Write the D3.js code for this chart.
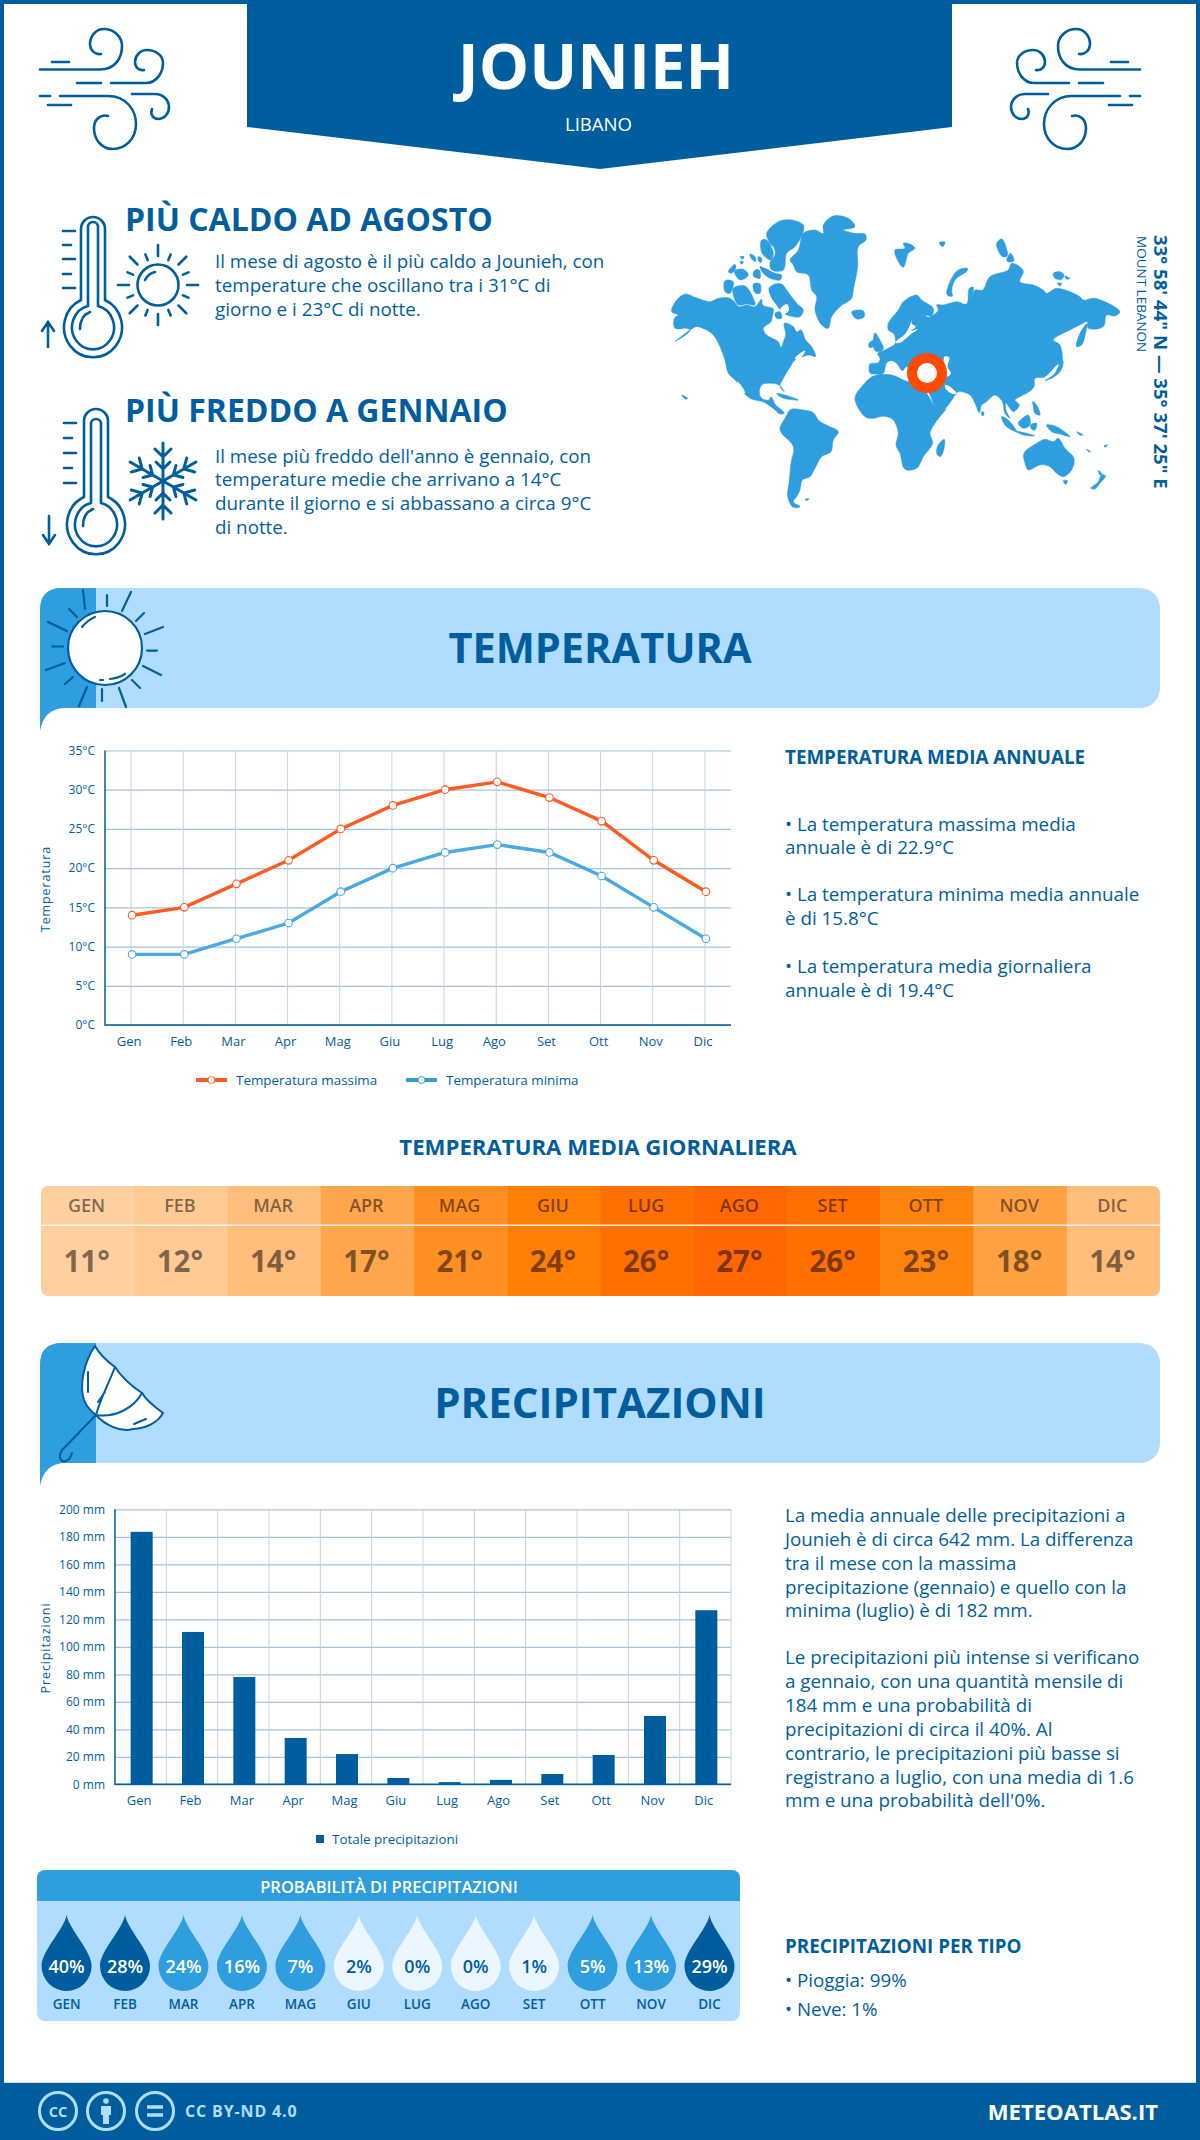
<!DOCTYPE html>
<html><head><meta charset="utf-8">
<script src="https://cdn.jsdelivr.net/npm/d3@7"></script>
<style>
html,body{margin:0;padding:0;background:#fff}
svg{display:block}
text{font-family:"Open Sans",sans-serif}
</style></head><body><svg id="c" width="1200" height="2140" viewBox="0 0 1200 2140"></svg>
<script>
// ---------- data ----------
const months = ["Gen","Feb","Mar","Apr","Mag","Giu","Lug","Ago","Set","Ott","Nov","Dic"];
const monthsUpper = ["GEN","FEB","MAR","APR","MAG","GIU","LUG","AGO","SET","OTT","NOV","DIC"];
const tempMax = [14,15,18,21,25,28,30,31,29,26,21,17];
const tempMin = [9,9,11,13,17,20,22,23,22,19,15,11];
const tempTicks = [0,5,10,15,20,25,30,35];
const tempDaily = [11,12,14,17,21,24,26,27,26,23,18,14];
const precip = [183.6,110.8,78,33.7,22,4.6,1.6,3.2,7.5,21.3,49.7,126.6];
const precipTicks = [0,20,40,60,80,100,120,140,160,180,200];
const precipProb = [40,28,24,16,7,2,0,0,1,5,13,29];

const hotText = ["Il mese di agosto è il più caldo a Jounieh, con","temperature che oscillano tra i 31°C di","giorno e i 23°C di notte."];
const coldText = ["Il mese più freddo dell'anno è gennaio, con","temperature medie che arrivano a 14°C","durante il giorno e si abbassano a circa 9°C","di notte."];
const annualText = [["• La temperatura massima media","annuale è di 22.9°C"],["• La temperatura minima media annuale","è di 15.8°C"],["• La temperatura media giornaliera","annuale è di 19.4°C"]];
const precipText = [["La media annuale delle precipitazioni a","Jounieh è di circa 642 mm. La differenza","tra il mese con la massima","precipitazione (gennaio) e quello con la","minima (luglio) è di 182 mm."],
["Le precipitazioni più intense si verificano","a gennaio, con una quantità mensile di","184 mm e una probabilità di","precipitazioni di circa il 40%. Al","contrario, le precipitazioni più basse si","registrano a luglio, con una media di 1.6","mm e una probabilità dell'0%."]];

// decorative world outline (traced, in its own local units)
const landShapes = [
 [[20,305],[35,270],[62,252],[90,262],[135,275],[160,265],[190,263],[205,272],[222,290],[245,285],[270,290],[290,268],[293,285],[312,292],[325,296],[322,320],[318,335],[295,355],[305,375],[340,395],[348,412],[355,395],[362,375],[358,340],[385,350],[395,365],[408,360],[422,390],[440,410],[452,440],[432,435],[415,440],[390,450],[370,480],[355,505],[345,530],[358,545],[342,525],[310,520],[290,525],[283,545],[290,565],[312,570],[318,560],[332,585],[350,600],[358,610],[345,612],[330,600],[300,578],[255,565],[235,545],[215,515],[190,490],[180,450],[165,410],[145,375],[120,358],[95,350],[75,360],[30,395],[75,362],[65,355],[30,355],[28,325],[40,315]],
 [[312,235],[330,222],[350,222],[365,240],[395,280],[415,300],[405,320],[385,320],[355,310],[335,285],[318,260]],
 [[330,310],[345,305],[350,325],[335,325]],
 [[180,212],[205,215],[195,250],[180,245]],
 [[205,235],[240,228],[265,265],[270,285],[245,282],[220,285],[205,255]],
 [[265,222],[285,222],[285,250],[270,248]],
 [[270,180],[283,180],[285,205],[265,198]],
 [[285,170],[300,175],[330,190],[350,195],[345,210],[315,205],[295,190]],
 [[190,185],[210,163],[212,175],[200,190]],
 [[208,183],[235,178],[250,195],[225,210]],
 [[225,140],[237,140],[233,148]],
 [[225,155],[235,155],[230,163]],
 [[255,132],[270,140],[272,155],[258,145]],
 [[280,140],[290,145],[288,158],[280,152]],
 [[305,70],[340,35],[380,30],[415,45],[415,65],[390,110],[365,130],[355,180],[320,180],[315,158],[330,135],[328,115],[315,100]],
 [[290,90],[305,90],[325,130],[318,150],[295,135],[287,115]],
 [[375,150],[400,120],[415,70],[450,60],[475,70],[475,45],[505,18],[550,25],[570,50],[535,60],[570,70],[600,72],[603,90],[580,110],[578,170],[565,240],[560,265],[525,290],[500,320],[490,355],[470,345],[450,300],[455,260],[440,240],[430,195],[395,185],[385,165]],
 [[560,305],[595,302],[598,320],[575,327]],
 [[345,655],[360,625],[378,598],[415,600],[445,608],[462,632],[490,648],[520,665],[505,690],[498,725],[470,740],[450,775],[435,800],[412,810],[405,840],[395,860],[385,875],[405,890],[385,892],[368,860],[372,820],[378,760],[385,710],[350,670]],
 [[335,550],[360,555],[400,570],[370,568],[345,560]],
 [[420,868],[432,866],[425,872]],
 [[50,555],[68,565],[62,568]],
 [[690,120],[720,115],[715,100],[735,102],[750,115],[730,130],[725,145],[715,172],[700,155]],
 [[823,98],[840,96],[833,110]],
 [[845,250],[860,205],[880,180],[907,175],[907,182],[870,210],[860,245],[863,258],[850,258]],
 [[995,100],[1010,87],[1023,110],[1027,138],[1013,140],[1000,122]],
 [[1025,150],[1037,130],[1047,152],[1030,156]],
 [[1165,190],[1185,185],[1197,195],[1190,208],[1170,205]],
 [[1200,198],[1215,205],[1205,208]],
 [[1177,220],[1190,220],[1185,228]],
 [[615,462],[640,458],[645,445],[638,430],[660,420],[675,412],[690,402],[687,372],[670,360],[670,340],[700,300],[715,275],[755,255],[770,270],[805,295],[800,318],[780,315],[790,322],[820,300],[815,285],[835,285],[875,275],[905,282],[913,235],[925,232],[922,260],[930,240],[953,240],[975,200],[1030,180],[1040,160],[1075,182],[1065,215],[1105,225],[1135,240],[1145,250],[1175,235],[1245,260],[1255,270],[1290,265],[1365,305],[1350,318],[1325,315],[1315,350],[1270,355],[1267,335],[1245,345],[1215,360],[1165,390],[1185,405],[1190,455],[1175,465],[1140,500],[1110,505],[1107,530],[1085,550],[1065,560],[1050,570],[1063,585],[1045,605],[1023,580],[1023,600],[1035,625],[1020,610],[1012,575],[990,555],[965,575],[950,585],[943,608],[930,580],[915,555],[880,545],[873,552],[840,595],[817,598],[795,555],[790,545],[760,520],[745,495],[725,470],[712,482],[695,460],[680,452],[665,458],[655,490],[630,492],[615,490]],
 [[570,570],[575,550],[590,530],[625,498],[680,495],[720,512],[760,525],[785,550],[810,590],[825,600],[843,595],[810,640],[795,670],[803,700],[775,740],[755,775],[720,778],[705,730],[693,705],[700,670],[685,630],[665,620],[645,620],[625,625],[600,620]],
 [[815,730],[820,705],[838,688],[835,725],[825,740]],
 [[950,605],[957,608],[955,617],[950,615]],
 [[1010,620],[1030,630],[1055,665],[1040,660],[1020,645]],
 [[1050,663],[1085,670],[1110,678],[1075,675]],
 [[1060,640],[1090,615],[1095,645],[1075,655]],
 [[1097,645],[1115,640],[1110,660],[1100,658]],
 [[1145,645],[1175,650],[1215,680],[1185,672],[1160,665]],
 [[1103,575],[1115,585],[1125,615],[1110,610],[1105,590]],
 [[1140,512],[1165,495],[1180,470],[1186,440],[1195,455],[1185,485],[1160,505]],
 [[1235,410],[1245,370],[1267,340],[1263,365],[1250,405]],
 [[625,410],[630,368],[642,385],[655,418],[635,425]],
 [[612,400],[625,392],[622,412],[612,412]],
 [[1077,730],[1115,700],[1140,688],[1165,695],[1180,685],[1200,715],[1227,745],[1220,780],[1195,800],[1175,790],[1155,770],[1125,765],[1090,780],[1082,765]],
 [[1195,812],[1208,812],[1202,823]],
 [[1277,835],[1300,815],[1310,795],[1322,798],[1305,820],[1290,837]],
 [[1300,780],[1313,795],[1305,795]],
 [[1265,718],[1277,725],[1270,725]],
 [[1317,708],[1327,704],[1321,712]],
 [[1235,665],[1255,675],[1245,675]]
];
const seaShapes = [
 [[690,398],[720,372],[735,345],[745,310],[740,340],[752,350],[738,362],[758,358],[735,375],[705,398]],
 [[838,440],[853,442],[848,470],[858,490],[846,500]],
 [[840,525],[855,530],[875,550],[865,552],[845,540]],
 [[218,515],[240,548],[232,550],[215,520]],
 [[390,445],[420,422],[415,435],[398,450]],
 [[345,300],[365,282],[372,300],[358,312]]
];

// ---------- helpers ----------
const dark="#005e9e", mid="#2e9edf", pale="#b0dcff", bodySize=18.8;
const svg=d3.select("#c");
svg.append("rect").attr("width",1200).attr("height",2140).attr("fill","#fff");
svg.append("rect").attr("x",2).attr("y",2).attr("width",1196).attr("height",2136).attr("fill","none").attr("stroke",dark).attr("stroke-width",4);
function T(x,y,s,size,weight,fill,anchor){return svg.append("text").attr("x",x).attr("y",y).text(s).attr("font-size",size).attr("font-weight",weight||400).attr("fill",fill||dark).attr("text-anchor",anchor||"start");}
function lines(x,ys,arr,size){arr.forEach((s,i)=>T(x,ys[i],s,size));}
function icon(){return svg.append("g").attr("fill","none").attr("stroke",dark).attr("stroke-width",2.6).attr("stroke-linecap","round");}

// ---------- header ----------
svg.append("path").attr("d","M247,0H952V127L600,169L247,127Z").attr("fill",dark);
T(596,89,"JOUNIEH",63.5,700,"#fff","middle");
T(598.5,131,"LIBANO",18.6,400,"#fff","middle");

function wind(g){
 ["M40,69.5H100C116,69.5 122,57 122,46C122,36 113,29 104,29C95,29 90,37 90,44C90,50 95,55 101,54",
  "M111,83H146C157,83 163,72 163,63C163,55 155,50 147,50C140,50 135,56 135,62C135,67 139,71 144,70",
  "M60,96H108C126,96 136,110 136,124C136,139 125,149 113,149C101,149 94,139 94,128C94,119 101,114 108,116",
  "M132,94H155C164,94 169,101 169,107C169,114 164,119 158,119C153,119 150,114 152,109",
  "M52,62H69","M77,83H101","M40,96H50","M48,105H71"
 ].forEach(d=>g.append("path").attr("d",d));
}
wind(icon());
wind(icon().attr("transform","translate(1180,0) scale(-1,1)"));

// ---------- hot / cold ----------
T(125,231,"PIÙ CALDO AD AGOSTO",32,700);
lines(215,[268,292,316],hotText,bodySize);
T(125,422,"PIÙ FREDDO A GENNAIO",32,700);
lines(215,[462.5,486,510,534],coldText,bodySize);

function thermo(g,cx,top,cy,ticks,tx){
 g.append("path").attr("d",`M${cx-12},${cy-27}V${top+11}A12,12 0 0 1 ${cx+12},${top+11}V${cy-27}A29,30 0 1 1 ${cx-12},${cy-27}Z`);
 g.append("path").attr("d",`M${cx-5},${cy-21}V${cy-100}A5,5 0 0 1 ${cx+5},${cy-100}V${cy-21}A21,22 0 1 1 ${cx-5},${cy-21}Z`);
 g.append("path").attr("d",`M${cx-13},${cy+2}C${cx-13},${cy-8} ${cx-8},${cy-13} ${cx-3},${cy-15}`);
 ticks.forEach((y,i)=>g.append("path").attr("d",`M${tx},${y}H${tx+(i%2?8:12)}`));
}
const g1=icon(); thermo(g1,93,218,327,[231,245,259,274,288],63);
g1.append("path").attr("d","M48,347V322M42,331L48,322L54,331");
const g2=icon(); thermo(g2,96,410,524,[423,438,453,468,483],64);
g2.append("path").attr("d","M49,516V544M43,535L49,544L55,535");
// small sun
const g3=icon().attr("transform","translate(158,285)");
g3.append("circle").attr("r",20.5);
g3.append("path").attr("d","M-13,-5A15,15 0 0 1 -3,-13");
d3.range(16).forEach(i=>{const a=i*Math.PI/8,r0=i%2?27:29,r1=i%2?33:40;
 g3.append("path").attr("d",`M${r0*Math.cos(a)},${r0*Math.sin(a)}L${r1*Math.cos(a)},${r1*Math.sin(a)}`);});
// snowflake
const g4=icon().attr("transform","translate(163,481)").attr("stroke-width",3);
d3.range(6).forEach(i=>{const b=g4.append("g").attr("transform",`rotate(${i*60})`);
 b.append("path").attr("d","M0,0V-38M-8,-32L0,-24L8,-32M-7,-19L0,-12L7,-19");});

// ---------- map ----------
const mapG=svg.append("g").attr("transform","translate(665,210) scale(0.3333)");
const shape=d3.line().curve(d3.curveCatmullRomClosed.alpha(0.5));
landShapes.forEach(s=>mapG.append("path").attr("d",shape(s)).attr("fill",mid).attr("stroke",mid).attr("stroke-width",1.5).attr("stroke-linejoin","round"));
seaShapes.forEach(s=>mapG.append("path").attr("d",shape(s)).attr("fill","#fff"));
svg.append("circle").attr("cx",927).attr("cy",373).attr("r",15).attr("fill","#fff").attr("stroke","#ff4a00").attr("stroke-width",10);
T(0,0,"33° 58' 44\" N — 35° 37' 25\" E",18.6,700,dark).attr("transform","translate(1154,235) rotate(90)");
T(0,0,"MOUNT LEBANON",13.5,400,dark).attr("transform","translate(1137,236) rotate(90)");

// ---------- section banners ----------
function banner(top,title,base,size){
 svg.append("rect").attr("x",40).attr("y",top).attr("width",1120).attr("height",120).attr("rx",20).attr("fill",pale);
 svg.append("path").attr("d",`M96,${top}H62Q40,${top} 40,${top+22}V${top+143}Q44,${top+120} 66,${top+120}H96Z`).attr("fill",mid);
 T(600,base,title,size,700,dark,"middle");
}
banner(588,"TEMPERATURA",663,41.5);
banner(1343,"PRECIPITAZIONI",1418,42);

// banner sun
const bs=svg.append("g").attr("transform","translate(105,648)").attr("fill","none").attr("stroke",dark).attr("stroke-width",2.2).attr("stroke-linecap","round");
const sunRays=[[-20,-39,-22,-58],[2,-53,2,-42],[17,-37,26,-56],[31,-27,39,-35],[40,-14,58,-21],[42,2.6,52,2.6],[38,18,56,27],[27,32,35,40],[14,40,21,59],[-3,41,-3,53],[-18,39,-26,58],[-32,29,-40,36],[-40,15,-59,22],[-42,-1.5,-53,-1.5],[-38,-17,-57,-26],[-28,-31,-36,-39]];
sunRays.forEach(r=>bs.append("path").attr("d",`M${r[0]},${r[1]}L${r[2]},${r[3]}`));
bs.append("circle").attr("r",37).attr("fill","#fff");
bs.append("path").attr("d","M-23,-21A33,33 0 0 1 -10,-31M20,26A33,33 0 0 1 5,31M-2,32H-5");

// umbrella
const um=svg.append("g").attr("fill","none").attr("stroke",dark).attr("stroke-width",2).attr("stroke-linecap","round");
um.append("path").attr("d","M96,1415L62,1450C57,1458 62,1463 66,1461C69,1460 71,1457 72,1453");
um.append("path").attr("fill","#fff").attr("d","M95,1346C84,1362 79,1385 84,1400C87,1408 92,1412 96,1415C104,1424 120,1433 133,1429C147,1428 158,1422 163,1413C152,1405 146,1400 142,1393C130,1385 122,1378 115,1367C108,1362 100,1355 95,1346Z");
um.append("path").attr("d","M115,1367C108,1385 100,1400 96,1415M142,1393C134,1408 115,1418 96,1415M88,1372V1392M134,1424L146,1419M105,1392L98,1402");

// ---------- temperature chart ----------
const xT=d3.scaleBand().domain(months).range([106,732]);
const yT=d3.scaleLinear().domain([0,35]).range([1025,750.5]);
const cT=m=>xT(m)+xT.bandwidth()/2;
const tChart=svg.append("g");
function styleAxis(g,size,color){g.select(".domain").remove();g.selectAll("text").attr("font-size",size).attr("fill",dark);g.selectAll("line").attr("stroke",color);}
tChart.append("g").attr("transform","translate(105,0)")
 .call(d3.axisLeft(yT).tickValues(tempTicks).tickSize(-626).tickPadding(10).tickFormat(d=>d+"°C"))
 .call(g=>styleAxis(g,12,"#a8c4dc"))
 .call(g=>g.selectAll(".tick line").attr("stroke-width",1.2));
tChart.append("g").attr("transform","translate(0,1025)")
 .call(d3.axisBottom(xT).tickSize(-274.5).tickPadding(0))
 .call(g=>styleAxis(g,13,"#b8d0e3"))
 .call(g=>g.selectAll(".tick line").attr("transform","translate(-1,0)").attr("stroke-width",.9))
 .call(g=>g.selectAll(".tick text").attr("y",21).attr("dx",-3).attr("dy",0));
tChart.append("path").attr("d","M105,750.5V1025H731").attr("fill","none").attr("stroke",dark).attr("stroke-width",1.5);
const lineT=d3.line().x((d,i)=>cT(months[i])).y(d=>yT(d));
[[tempMax,"#ff5a1f"],[tempMin,"#4aa8e2"]].forEach(([s,c])=>{
 tChart.append("path").attr("d",lineT(s)).attr("fill","none").attr("stroke",c).attr("stroke-width",3.4);
 tChart.append("g").selectAll("circle").data(s).join("circle").attr("cx",(d,i)=>cT(months[i])).attr("cy",d=>yT(d)).attr("r",3.8).attr("fill","#fff").attr("stroke",c).attr("stroke-width",1.1);
});
T(0,0,"Temperatura",12.5,400,dark,"middle").attr("letter-spacing",.9).attr("transform","translate(50,889) rotate(-90)");
[[196,"#ff5a1f","Temperatura massima",236],[406,"#2e9edf","Temperatura minima",446]].forEach(([x,c,s,tx])=>{
 svg.append("rect").attr("x",x).attr("y",1078).attr("width",31).attr("height",4).attr("fill",c);
 svg.append("circle").attr("cx",x+15.5).attr("cy",1080).attr("r",3.5).attr("fill","#fff").attr("stroke",c);
 T(tx,1084.5,s,13.4);
});
T(785,763.5,"TEMPERATURA MEDIA ANNUALE",18.8,700);
[[830.7,854],[901,925],[972.6,996.7]].forEach((ys,i)=>lines(785,ys,annualText[i],bodySize));

// ---------- heat strip ----------
T(598,1155,"TEMPERATURA MEDIA GIORNALIERA",22.2,700,dark,"middle");
svg.append("clipPath").attr("id","hc").append("rect").attr("x",41).attr("y",1186).attr("width",1119).attr("height",110).attr("rx",7);
const heat=svg.append("g").attr("clip-path","url(#hc)");
const xH=d3.scaleBand().domain(monthsUpper).range([41,1160]);
const colorH=d3.scaleLinear().domain([11,14,17,21,24,26,27]).range(["#ffcfa0","#ffbd7c","#ffa54c","#ff8f22","#ff7f05","#ff7000","#ff6702"]);
heat.selectAll("rect.h").data(tempDaily).join("rect").attr("class","h").attr("x",(d,i)=>xH(monthsUpper[i])).attr("y",1186).attr("width",xH.bandwidth()+.5).attr("height",110).attr("fill",d=>colorH(d));
svg.append("rect").attr("x",41).attr("y",1224.5).attr("width",1119).attr("height",1.5).attr("fill","#fff").attr("fill-opacity",.85);
svg.append("g").selectAll("text").data(monthsUpper).join("text").attr("x",d=>xH(d)+xH.bandwidth()/2-1).attr("y",1212).attr("text-anchor","middle").attr("font-size",18).attr("font-weight",600).attr("fill","#000").attr("fill-opacity",.5).text(d=>d);
svg.append("g").selectAll("text").data(tempDaily).join("text").attr("x",(d,i)=>xH(monthsUpper[i])+xH.bandwidth()/2-1).attr("y",1272).attr("text-anchor","middle").attr("font-size",29.5).attr("font-weight",700).attr("fill","#000").attr("fill-opacity",.5).text(d=>d+"°");

// ---------- precipitation chart ----------
const xP=d3.scaleBand().domain(months).range([115,731]).paddingInner(0);
const yP=d3.scaleLinear().domain([0,200]).range([1784.3,1509.3]);
const pChart=svg.append("g");
pChart.append("g").attr("transform","translate(115,0)")
 .call(d3.axisLeft(yP).tickValues(precipTicks).tickSize(-616).tickPadding(10).tickFormat(d=>d+" mm"))
 .call(g=>styleAxis(g,12,"#a8c4dc"))
 .call(g=>g.selectAll(".tick line").attr("stroke-width",1.2));
pChart.selectAll("line.v").data(months).join("line").attr("class","v").attr("x1",d=>xP(d)+xP.bandwidth()).attr("x2",d=>xP(d)+xP.bandwidth()).attr("y1",1509.3).attr("y2",1784.3).attr("stroke","#b8d0e3").attr("stroke-width",.9);
pChart.selectAll("rect").data(precip).join("rect").attr("x",(d,i)=>xP(months[i])+xP.bandwidth()/2-10).attr("width",22).attr("y",d=>yP(d)).attr("height",d=>1784.3-yP(d)).attr("fill",dark);
pChart.append("g").attr("transform","translate(0,1784.3)")
 .call(d3.axisBottom(xP).tickSize(0).tickPadding(0))
 .call(g=>styleAxis(g,13,"none"))
 .call(g=>g.selectAll(".tick text").attr("y",21).attr("dx",-1.5).attr("dy",0));
pChart.append("path").attr("d","M115,1509.3V1784.3H731").attr("fill","none").attr("stroke",dark).attr("stroke-width",1.5);
T(0,0,"Precipitazioni",12.5,400,dark,"middle").attr("letter-spacing",.9).attr("transform","translate(50,1648) rotate(-90)");
svg.append("rect").attr("x",316).attr("y",1835).attr("width",8).attr("height",8).attr("fill",dark);
T(332,1843.5,"Totale precipitazioni",13.4);
lines(785,[1522,1546,1570,1593.5,1617],precipText[0],bodySize);
lines(785,[1664,1688,1712,1736,1759.5,1783.5,1807],precipText[1],bodySize);

// ---------- probability ----------
svg.append("rect").attr("x",37).attr("y",1870).attr("width",703).attr("height",151).attr("rx",8).attr("fill",pale);
svg.append("path").attr("d","M37,1901V1878A8,8 0 0 1 45,1870H732A8,8 0 0 1 740,1878V1901Z").attr("fill",mid);
T(389,1893,"PROBABILITÀ DI PRECIPITAZIONI",16.5,600,"#fff","middle");
const xD=d3.scalePoint().domain(monthsUpper).range([66.6,709.5]);
const dropC=d3.scaleThreshold().domain([3,25]).range(["#ebf6ff",mid,dark]);
const dropG=svg.append("g").selectAll("g").data(precipProb).join("g").attr("transform",(d,i)=>`translate(${xD(monthsUpper[i])},1966)`);
dropG.append("path").attr("d","M0,-51C3,-36 25,-15 25,0A25,25 0 1 1 -25,0C-25,-15 -3,-36 0,-51Z").attr("fill",d=>dropC(d));
dropG.append("text").attr("y",7).attr("text-anchor","middle").attr("font-size",18).attr("font-weight",600).attr("fill",d=>d<3?dark:"#fff").text(d=>d+"%");
svg.append("g").selectAll("text").data(monthsUpper).join("text").attr("x",d=>xD(d)).attr("y",2009).attr("text-anchor","middle").attr("font-size",13.5).attr("font-weight",600).attr("fill",dark).text(d=>d);
T(785,1953,"PRECIPITAZIONI PER TIPO",18.8,700);
T(785,1987,"• Pioggia: 99%",bodySize);
T(785,2016,"• Neve: 1%",bodySize);

// ---------- footer ----------
svg.append("rect").attr("x",0).attr("y",2083).attr("width",1200).attr("height",57).attr("fill",dark);
svg.append("rect").attr("x",4).attr("y",2082).attr("width",1192).attr("height",1).attr("fill","#d8dde2");
const fi=svg.append("g").attr("fill","none").attr("stroke",pale).attr("stroke-width",3);
[58,106,155].forEach(x=>fi.append("circle").attr("cx",x).attr("cy",2111).attr("r",18.5));
T(58,2116.5,"CC",14.5,700,pale,"middle");
fi.append("circle").attr("cx",106).attr("cy",2101).attr("r",2.8).attr("fill",pale).attr("stroke","none");
fi.append("path").attr("d","M101,2106H111V2115H109V2124H103V2115H101Z").attr("fill",pale).attr("stroke","none");
fi.append("path").attr("d","M147,2107H163M147,2115H163").attr("stroke-width",3.5);
T(185,2117,"CC BY-ND 4.0",16,700,pale).attr("letter-spacing",.85);
T(1158,2120,"METEOATLAS.IT",22.1,700,"#fff","end");
</script></body></html>
